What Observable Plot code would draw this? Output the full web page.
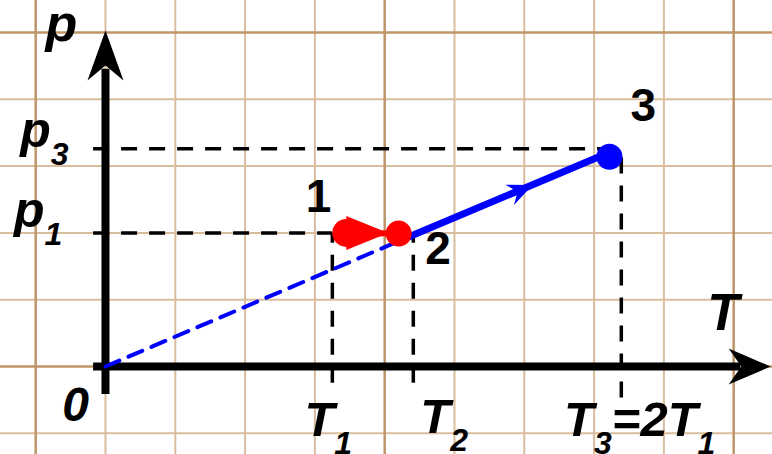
<!DOCTYPE html>
<html>
<head>
<meta charset="utf-8">
<script src="https://cdn.jsdelivr.net/npm/d3@7"></script>
<script src="https://cdn.jsdelivr.net/npm/@observablehq/plot@0.6"></script>
<style>
  html, body { margin: 0; padding: 0; background: #fff; }
  svg { display: block; }
</style>
</head>
<body>
<div id="chart"></div>
<script>
// Graph paper lines (temperature and pressure units)
const gridT = [-1, 0, 1, 2, 3, 4, 5, 6, 7, 8, 9];
const majorT = [-1, 4, 9];
const gridP = [-1, 0, 1, 2, 3, 4, 5];
const majorP = [0, 5];

// States of the gas
const stateNames = ["1", "2", "3"];
const stateT = [3.45, 4.2, 7.22];
const stateP = [2.0, 1.99, 3.14];

// Reference levels marked on the axes
const levelT = [3.25, 4.41, 7.39];   // T1, T2, T3
const levelTBottom = [-0.25, -0.25, -0.47];
const levelTTop = [2.0, 2.0, 3.26];
const levelP = [2.0, 3.26];          // p1, p3
const levelPRight = [3.25, 7.39];

// Straight line through the origin (isochore)
const isoT = [0, 4.23, 7.3];
const isoP = [0, 1.89, 3.24];
const isoArrowT = 6.12;

// Text labels ("_" marks a subscript)
const labelText = ["p", "T", "0", "p_3", "p_1", "T_1", "T_2", "T_3=2T_1"];
const labelT = [-0.86, 8.62, -0.62, -1.22, -1.31, 2.85, 4.51, 6.57];
const labelP = [4.88, 0.54, -0.81, 3.28, 2.09, -1.04, -1.0, -1.04];
const labelSize = [52, 52, 48, 50, 50, 49, 49, 49];

const stateLabelT = [2.87, 4.58, 7.52];
const stateLabelP = [2.31, 1.53, 3.68];
const stateLabelStyle = ["italic", "normal", "normal"];

const W = 772, H = 454;
const xDomain = [-1.504, 9.556];
const yDomain = [-1.317, 5.479];

const states = stateNames.map((name, i) => ({name, T: stateT[i], p: stateP[i], lt: stateLabelT[i], lp: stateLabelP[i], style: stateLabelStyle[i]}));
const labels = labelText.map((text, i) => ({text, T: labelT[i], p: labelP[i], size: labelSize[i]}));
const tLevels = levelT.map((T, i) => ({T, p1: levelTBottom[i], p2: levelTTop[i]}));
const pLevels = levelP.map((p, i) => ({p, T1: -0.17, T2: levelPRight[i]}));

// direction of the isochore in screen space, for its arrowhead
const kx = W / (xDomain[1] - xDomain[0]);
const ky = H / (yDomain[1] - yDomain[0]);
const isoAngle = 90 - Math.atan2((isoP[2] - isoP[0]) * ky, (isoT[2] - isoT[0]) * kx) * 180 / Math.PI;

// notched arrowhead drawn pointing up from its base
const dart = (notch) => ({
  draw(context, l, r) {
    context.moveTo(0, -l);
    context.lineTo(r, 0);
    context.lineTo(0, -notch * l);
    context.lineTo(-r, 0);
    context.closePath();
  }
});

const font = "'Liberation Sans', Arial, sans-serif";
const minor = "#d9bd9d", major = "#bf9468";

const chart = Plot.plot({
  width: W,
  height: H,
  margin: 0,
  x: {domain: xDomain, axis: null},
  y: {domain: yDomain, axis: null},
  style: {background: "#fff"},
  marks: [
    // graph paper
    Plot.ruleX(gridT.filter(t => !majorT.includes(t)), {stroke: minor, strokeWidth: 2}),
    Plot.ruleY(gridP.filter(p => !majorP.includes(p)), {stroke: minor, strokeWidth: 2}),
    Plot.ruleX(majorT, {stroke: major, strokeWidth: 2.5}),
    Plot.ruleY(majorP, {stroke: major, strokeWidth: 2.5}),

    // dashed guides to the axes
    Plot.ruleY(pLevels, {y: "p", x1: "T1", x2: "T2", stroke: "#000", strokeWidth: 3.5, strokeDasharray: "16,12"}),
    Plot.ruleX(tLevels, {x: "T", y1: "p1", y2: "p2", stroke: "#000", strokeWidth: 3.5, strokeDasharray: "16,12"}),

    // axes
    Plot.ruleY([0], {x1: -0.17, x2: 9.1, stroke: "#000", strokeWidth: 8}),
    Plot.ruleX([0], {y1: -0.42, y2: 4.45, stroke: "#000", strokeWidth: 8}),
    Plot.vector([{T: 9.53, p: 0}], {x: "T", y: "p", rotate: 90, length: 42, r: 18, anchor: "end", shape: dart(0.3), fill: "#000", stroke: "none"}),
    Plot.vector([{T: 0, p: 5.03}], {x: "T", y: "p", rotate: 0, length: 50, r: 18, anchor: "end", shape: dart(0.3), fill: "#000", stroke: "none"}),

    // isochore: dashed extrapolation to the origin, then the process 2 -> 3
    Plot.line(isoT.slice(0, 2).map((T, i) => ({T, p: isoP[i]})), {x: "T", y: "p", stroke: "#0000ff", strokeWidth: 4, strokeDasharray: "15,10"}),
    Plot.line(isoT.slice(1).map((T, i) => ({T, p: isoP[i + 1]})), {x: "T", y: "p", stroke: "#0000ff", strokeWidth: 7}),
    Plot.vector([{T: isoArrowT, p: isoArrowT * isoP[2] / isoT[2]}], {x: "T", y: "p", rotate: isoAngle, length: 25, r: 11, anchor: "end", shape: dart(0.35), fill: "#0000ff", stroke: "none"}),
    Plot.dot([states[2]], {x: "T", y: "p", r: 13, fill: "#0000ff"}),

    // process 1 -> 2 at constant pressure
    Plot.link([{T1: states[0].T, T2: states[1].T, p1: states[0].p, p2: states[1].p}], {x1: "T1", y1: "p1", x2: "T2", y2: "p2", stroke: "#ff0000", strokeWidth: 6}),
    Plot.vector([states[0]], {x: "T", y: "p", rotate: 90, length: 42, r: 17, anchor: "start", shape: "spike", fill: "#ff0000", stroke: "none"}),
    Plot.dot([states[0]], {x: "T", y: "p", r: 14, fill: "#ff0000"}),
    Plot.dot([states[1]], {x: "T", y: "p", r: 13, fill: "#ff0000"}),

    // state numbers
    Plot.text(states, {x: "lt", y: "lp", text: "name", fontSize: 46, fontWeight: "bold", fontStyle: (d) => d.style, fontFamily: font, textAnchor: "start", lineAnchor: "bottom", fill: "#000"}),

    // axis names and levels
    Plot.text(labels, {x: "T", y: "p", text: "text", fontSize: (d) => d.size, fontWeight: "bold", fontStyle: "italic", fontFamily: font, textAnchor: "start", lineAnchor: "bottom", fill: "#000"})
  ]
});

// turn "_x" into lowered, smaller subscripts
d3.select(chart).selectAll("text").each(function () {
  const t = this.textContent;
  if (!t.includes("_")) return;
  const parts = t.split(/_(\w)/);
  const el = d3.select(this).text(null);
  let lowered = false;
  parts.forEach((part, i) => {
    if (!part) return;
    const sub = i % 2 === 1;
    const span = el.append("tspan").text(part);
    if (sub) {
      span.attr("font-size", 32).attr("dy", 18);
      lowered = true;
    } else if (lowered) {
      span.attr("dy", -18);
      lowered = false;
    }
  });
});

document.getElementById("chart").appendChild(chart);
</script>
</body>
</html>
